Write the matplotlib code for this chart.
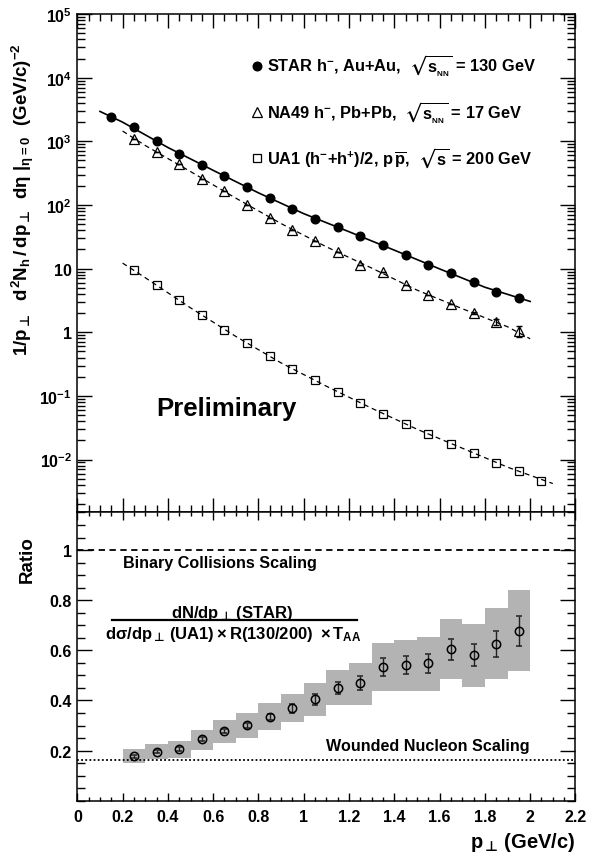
import matplotlib
matplotlib.use("Agg")
import matplotlib.pyplot as plt
import numpy as np
from matplotlib.ticker import FixedLocator, FixedFormatter, MultipleLocator, LogLocator, NullFormatter

plt.rcParams['font.family'] = ['Liberation Sans', 'DejaVu Sans']
plt.rcParams['font.weight'] = 'bold'
plt.rcParams['mathtext.fontset'] = 'custom'
plt.rcParams['mathtext.rm'] = 'Liberation Sans:bold'
plt.rcParams['mathtext.it'] = 'Liberation Sans:bold'
plt.rcParams['mathtext.bf'] = 'Liberation Sans:bold'
plt.rcParams['mathtext.sf'] = 'Liberation Sans:bold'
plt.rcParams['mathtext.cal'] = 'DejaVu Sans:bold'
plt.rcParams['mathtext.fallback'] = 'stix'

PERP = r'\mathcal{\bot}'

# ---------------- data ----------------
star_pt = [0.15, 0.25, 0.35, 0.45, 0.55, 0.65, 0.75, 0.85, 0.95, 1.05,
           1.15, 1.25, 1.35, 1.45, 1.55, 1.65, 1.75, 1.85, 1.95]
star_y = [2430, 1650, 1030, 623, 429, 289, 190, 127, 85.7, 61.2,
          44.7, 32.0, 23.1, 16.3, 11.3, 8.6, 6.08, 4.28, 3.45]

na49_pt = [0.25, 0.35, 0.45, 0.55, 0.65, 0.75, 0.85, 0.95, 1.05,
           1.15, 1.25, 1.35, 1.45, 1.55, 1.65, 1.75, 1.85, 1.95]
na49_y = [1070, 687, 434, 257, 164, 100, 62.8, 41.1, 27.0,
          18.2, 11.6, 8.9, 5.5, 3.9, 2.75, 2.01, 1.45, 1.05]
na49_err = [0, 0, 0, 0, 0, 0, 0, 0, 0, 0, 0, 0, 0, 0, 0, 0.1, 0.17, 0.2]

ua1_pt = [0.25, 0.35, 0.45, 0.55, 0.65, 0.75, 0.85, 0.95, 1.05, 1.15,
          1.25, 1.35, 1.45, 1.55, 1.65, 1.75, 1.85, 1.95, 2.05]
ua1_y = [9.37, 5.45, 3.17, 1.85, 1.10, 0.672, 0.42, 0.26, 0.175, 0.116,
         0.078, 0.0525, 0.0362, 0.0252, 0.0178, 0.0128, 0.00875, 0.00663, 0.00462]

# fit curves
star_fit_pt = [0.10, 0.20, 0.40, 0.60, 0.80, 1.00, 1.20, 1.40, 1.60, 1.80, 2.00]
star_fit_y = [2950, 2000, 800, 350, 155, 73, 38, 19.5, 9.9, 5.1, 3.05]
na49_fit_pt = [0.20, 0.30, 0.50, 0.70, 0.90, 1.10, 1.30, 1.50, 1.70, 1.90, 2.00]
na49_fit_y = [1450, 860, 335, 128, 51, 22, 10.2, 4.6, 2.35, 1.22, 0.79]
ua1_fit_pt = [0.20, 0.30, 0.50, 0.70, 0.90, 1.10, 1.30, 1.50, 1.70, 1.90, 2.10]
ua1_fit_y = [12.2, 7.2, 2.42, 0.86, 0.33, 0.142, 0.064, 0.030, 0.0151, 0.0076, 0.0042]

ratio_pt = [0.25, 0.35, 0.45, 0.55, 0.65, 0.75, 0.85, 0.95, 1.05,
            1.15, 1.25, 1.35, 1.45, 1.55, 1.65, 1.75, 1.85, 1.95]
ratio_y = [0.178, 0.196, 0.206, 0.245, 0.278, 0.301, 0.335, 0.369, 0.405,
           0.449, 0.469, 0.534, 0.542, 0.548, 0.604, 0.581, 0.625, 0.678]
ratio_stat = [0.006, 0.006, 0.008, 0.008, 0.009, 0.01, 0.013, 0.017, 0.022,
              0.025, 0.028, 0.035, 0.035, 0.037, 0.043, 0.043, 0.052, 0.06]
ratio_sys_lo = [0.150, 0.166, 0.170, 0.203, 0.230, 0.250, 0.283, 0.313, 0.339,
                0.382, 0.382, 0.439, 0.439, 0.439, 0.485, 0.455, 0.484, 0.519]
ratio_sys_hi = [0.206, 0.225, 0.238, 0.282, 0.321, 0.350, 0.390, 0.426, 0.468,
                0.522, 0.549, 0.628, 0.641, 0.654, 0.725, 0.705, 0.769, 0.842]

binary_level = 1.0
wounded_level = 0.162

top_yticks = [1e-2, 1e-1, 1, 10, 1e2, 1e3, 1e4, 1e5]
top_ytick_labels = [r'$10^{-2}$', r'$10^{-1}$', '1', '10', r'$10^{2}$',
                    r'$10^{3}$', r'$10^{4}$', r'$10^{5}$']
bot_yticks = [0.2, 0.4, 0.6, 0.8, 1.0]
bot_ytick_labels = ['0.2', '0.4', '0.6', '0.8', '1']
xticks = [0, 0.2, 0.4, 0.6, 0.8, 1.0, 1.2, 1.4, 1.6, 1.8, 2.0, 2.2]
xtick_labels = ['0', '0.2', '0.4', '0.6', '0.8', '1', '1.2', '1.4', '1.6', '1.8', '2', '2.2']

# ---------------- figure ----------------
fig = plt.figure(figsize=(5.93, 8.54), dpi=100)
L, W = 0.1304, 0.840
ax1 = fig.add_axes([L, 0.3993, W, 0.5831])
ax2 = fig.add_axes([L, 0.0612, W, 0.3381])

for ax in (ax1, ax2):
    for s in ax.spines.values():
        s.set_linewidth(1.1)

# top panel
ax1.set_yscale('log')
ax1.plot(star_fit_pt, star_fit_y, '-', color='black', lw=1.2, zorder=2)
ax1.plot(na49_fit_pt, na49_fit_y, '--', color='black', lw=0.9, dashes=(4, 3), zorder=2)
ax1.plot(ua1_fit_pt, ua1_fit_y, '--', color='black', lw=0.9, dashes=(4, 3), zorder=2)
h_star, = ax1.plot(star_pt, star_y, 'o', color='black', ms=6.2, zorder=3, linestyle='none')
ax1.errorbar(na49_pt, na49_y, yerr=na49_err, fmt='none', ecolor='black', elinewidth=0.9, capsize=2, zorder=3)
h_na49, = ax1.plot(na49_pt, na49_y, '^', mfc='none', mec='black', mew=0.9, ms=6.5, zorder=3, linestyle='none')
h_ua1, = ax1.plot(ua1_pt, ua1_y, 's', mfc='none', mec='black', mew=0.9, ms=5.5, zorder=3, linestyle='none')

ax1.set_xlim(0, 2.2)
ax1.set_ylim(1.5e-3, 1e5)
ax1.yaxis.set_major_locator(FixedLocator(top_yticks))
ax1.yaxis.set_major_formatter(FixedFormatter(top_ytick_labels))
ax1.yaxis.set_minor_locator(LogLocator(base=10, subs=np.arange(2, 10), numticks=20))
ax1.yaxis.set_minor_formatter(NullFormatter())
ax1.xaxis.set_major_locator(MultipleLocator(0.2))
ax1.xaxis.set_minor_locator(MultipleLocator(0.05))
ax1.tick_params(axis='both', which='both', direction='in', top=True, right=True, width=1.0)
ax1.tick_params(axis='x', which='major', length=10)
ax1.tick_params(axis='x', which='minor', length=5)
ax1.tick_params(axis='y', which='major', length=11, labelsize=11.5, pad=4)
ax1.tick_params(axis='y', which='minor', length=5.5)
ax1.tick_params(axis='x', labelbottom=False)

ax1.set_ylabel(r'$1/p_{' + PERP + r'}\ \ d^{2}N_{h}\,/\,dp_{' + PERP + r'}\ \,d\eta\ |_{\eta=0}\ \ (GeV/c)^{-2}$',
               fontsize=13.5)
ax1.yaxis.set_label_coords(-0.083, 0.63)

ax1.legend([h_star, h_na49, h_ua1],
           [r'STAR h$^{-}$, Au+Au,  $\sqrt{s_{_{NN}}}$ = 130 GeV',
            r'NA49 h$^{-}$, Pb+Pb,  $\sqrt{s_{_{NN}}}$ = 17 GeV',
            r'UA1 (h$^{-}$+h$^{+}$)/2, p$\,\overline{p}$,  $\sqrt{s}$ = 200 GeV'],
           loc='upper left', bbox_to_anchor=(0.348, 0.922), frameon=False,
           fontsize=11.8, handlelength=0.75, handletextpad=0.25, labelspacing=1.3,
           borderpad=0, borderaxespad=0)

ax1.text(0.30, 0.209, 'Preliminary', transform=ax1.transAxes, fontsize=18.5,
         fontweight='bold', ha='center', va='center')

# bottom panel
widths = [0.1] * len(ratio_pt)
heights = [h - l for h, l in zip(ratio_sys_hi, ratio_sys_lo)]
ax2.bar(ratio_pt, heights, bottom=ratio_sys_lo, width=widths, color='#b3b3b3',
        edgecolor='none', zorder=1)
ax2.errorbar(ratio_pt, ratio_y, yerr=ratio_stat, fmt='o', mfc='none', mec='black',
             mew=1.1, ms=6, ecolor='#222222', elinewidth=1.0, capsize=2.2, zorder=3)
ax2.axhline(binary_level, color='black', lw=1.3, dashes=(3.5, 2.5), zorder=2)
ax2.axhline(wounded_level, color='black', lw=1.3, dashes=(1, 1.3), zorder=2)

ax2.set_xlim(0, 2.2)
ax2.set_ylim(0, 1.152)
ax2.xaxis.set_major_locator(FixedLocator(xticks))
ax2.xaxis.set_major_formatter(FixedFormatter(xtick_labels))
ax2.xaxis.set_minor_locator(MultipleLocator(0.05))
ax2.yaxis.set_major_locator(FixedLocator(bot_yticks))
ax2.yaxis.set_major_formatter(FixedFormatter(bot_ytick_labels))
ax2.yaxis.set_minor_locator(MultipleLocator(0.05))
ax2.tick_params(axis='both', which='both', direction='in', top=True, right=True, width=1.0)
ax2.tick_params(axis='x', which='major', length=6, labelsize=11.5, pad=6)
ax2.tick_params(axis='x', which='minor', length=3)
ax2.tick_params(axis='y', which='major', length=11, labelsize=11.5, pad=4)
ax2.tick_params(axis='y', which='minor', length=5.5)

ax2.set_ylabel('Ratio', fontsize=13.5, fontweight='bold')
ax2.yaxis.set_label_coords(-0.083, 0.84)
ax2.set_xlabel(r'$p_{' + PERP + r'}\,$(GeV/c)', fontsize=14.5, fontweight='bold', loc='right')

ax2.text(0.286, 0.952, 'Binary Collisions Scaling', transform=ax2.get_yaxis_transform(),
         fontsize=11.6, fontweight='bold', ha='center', va='center')
ax2.text(0.704, 0.219, 'Wounded Nucleon Scaling', transform=ax2.get_yaxis_transform(),
         fontsize=11.6, fontweight='bold', ha='center', va='center')

ax2.text(0.31, 0.752, r'$dN/dp_{' + PERP + r'}\,(STAR)$', transform=ax2.get_yaxis_transform(),
         fontsize=12, ha='center', va='center')
ax2.axhline(0.722, xmin=0.152 / 2.2, xmax=1.237 / 2.2, color='black', lw=1.6)
ax2.text(0.314, 0.668, r'$d\sigma/dp_{' + PERP + r'}\,(UA1)\times R(130/200)\ \times T_{AA}$',
         transform=ax2.get_yaxis_transform(), fontsize=12, ha='center', va='center')

fig.savefig('out.png', dpi=100)
